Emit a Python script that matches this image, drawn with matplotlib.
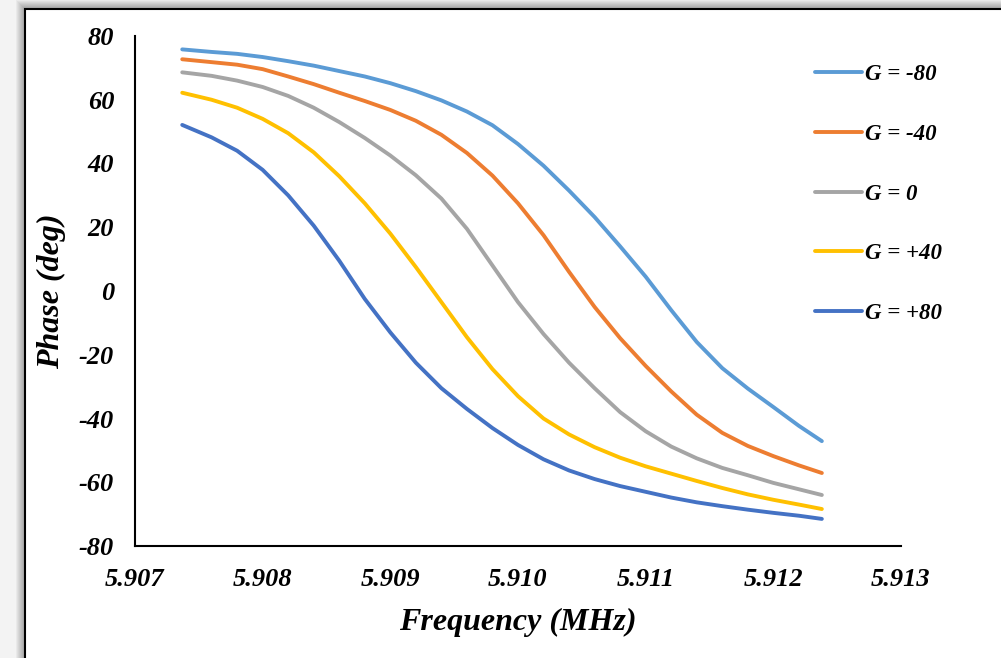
import matplotlib.pyplot as plt
from matplotlib.patches import Rectangle

plt.rcParams['axes.unicode_minus'] = False

# frequency sweep (MHz) and phase response (deg) for each gain setting
freq = [5.90737, 5.9076, 5.9078, 5.9080, 5.9082, 5.9084, 5.9086, 5.9088, 5.9090,
        5.9092, 5.9094, 5.9096, 5.9098, 5.9100, 5.9102, 5.9104, 5.9106, 5.9108,
        5.9110, 5.9112, 5.9114, 5.9116, 5.9118, 5.9120, 5.9122, 5.91238]

phase_m80 = [75.8, 75.0, 74.4, 73.4, 72.1, 70.7, 69.0, 67.3, 65.2, 62.7, 59.8, 56.3,
             52.0, 46.1, 39.3, 31.5, 23.2, 14.0, 4.5, -6.0, -16.0, -24.2, -30.6,
             -36.4, -42.3, -47.1]
phase_m40 = [72.7, 71.8, 71.0, 69.6, 67.3, 64.9, 62.2, 59.6, 56.8, 53.4, 49.0, 43.3,
             36.2, 27.5, 17.5, 6.0, -5.0, -14.8, -23.5, -31.5, -38.8, -44.5, -48.6,
             -51.8, -54.7, -57.1]
phase_0 = [68.6, 67.5, 66.0, 64.0, 61.2, 57.5, 53.0, 48.0, 42.5, 36.3, 29.0, 19.5,
           8.0, -3.5, -13.5, -22.5, -30.5, -38.0, -44.0, -48.8, -52.5, -55.5, -57.8,
           -60.2, -62.2, -64.0]
phase_p40 = [62.2, 60.0, 57.5, 54.0, 49.5, 43.5, 36.0, 27.5, 18.0, 7.5, -3.5, -14.5,
             -24.5, -33.0, -40.0, -45.0, -49.0, -52.3, -55.0, -57.3, -59.6, -61.8,
             -63.8, -65.5, -67.0, -68.4]
phase_p80 = [52.1, 48.2, 44.0, 38.0, 30.0, 20.5, 9.5, -2.5, -13.0, -22.5, -30.5, -37.0,
             -43.0, -48.3, -52.8, -56.3, -59.0, -61.2, -63.0, -64.8, -66.3, -67.5,
             -68.6, -69.6, -70.5, -71.5]

series = [("G = -80", phase_m80, "#5B9BD5"),
          ("G = -40", phase_m40, "#ED7D31"),
          ("G = 0", phase_0, "#A5A5A5"),
          ("G = +40", phase_p40, "#FFC000"),
          ("G = +80", phase_p80, "#4472C4")]

W, H = 1001, 658
fig = plt.figure(figsize=(W / 100, H / 100), dpi=100, facecolor="#f3f3f3")

# soft drop shadow and framed white chart area
for k in range(1, 10):
    fig.add_artist(Rectangle(((25 - k) / W, -0.05), 1.2, (H - 9 + k) / H + 0.05,
                             transform=fig.transFigure, facecolor="#000000",
                             edgecolor="none", alpha=0.04, zorder=0))
fig.add_artist(Rectangle((25 / W, -0.05), 1.2, (H - 9) / H + 0.05,
                         transform=fig.transFigure, facecolor="white",
                         edgecolor="black", linewidth=1.5, zorder=1))

ax = fig.add_axes([135 / W, (H - 546) / H, 766 / W, 510 / H])
ax.set_facecolor("none")
ax.set_zorder(2)

for label, phase, color in series:
    ax.plot(freq, phase, color=color, linewidth=2.8, label=label,
            solid_capstyle="round", solid_joinstyle="round")

ax.set_xlim(5.907, 5.913)
ax.set_ylim(-80, 80)
ax.set_xticks([5.907, 5.908, 5.909, 5.910, 5.911, 5.912, 5.913])
ax.set_xticklabels(["5.907", "5.908", "5.909", "5.910", "5.911", "5.912", "5.913"])
ax.set_yticks(range(-80, 81, 20))

for side in ["top", "right"]:
    ax.spines[side].set_visible(False)
for side in ["left", "bottom"]:
    ax.spines[side].set_linewidth(1.5)

font = dict(family="Liberation Serif", weight="bold", style="italic")
ax.tick_params(axis="both", length=0, labelsize=19)
ax.tick_params(axis="x", pad=16)
ax.tick_params(axis="y", pad=15)
for t in ax.get_xticklabels() + ax.get_yticklabels():
    t.set_fontfamily(font["family"])
    t.set_fontweight("bold")
    t.set_fontstyle("italic")

ax.set_xlabel("Frequency (MHz)", fontsize=23, labelpad=12, **font)
ax.set_ylabel("Phase (deg)", fontsize=23, labelpad=9, **font)

ax.legend(loc="upper left", bbox_to_anchor=(815 / W, 1 - 64 / H),
          bbox_transform=fig.transFigure, frameon=False, borderpad=0,
          borderaxespad=0, handlelength=2.05, handletextpad=0.15,
          labelspacing=1.69, prop=dict(size=16.5, **font))

fig.savefig("out.png", dpi=100, facecolor=fig.get_facecolor())
